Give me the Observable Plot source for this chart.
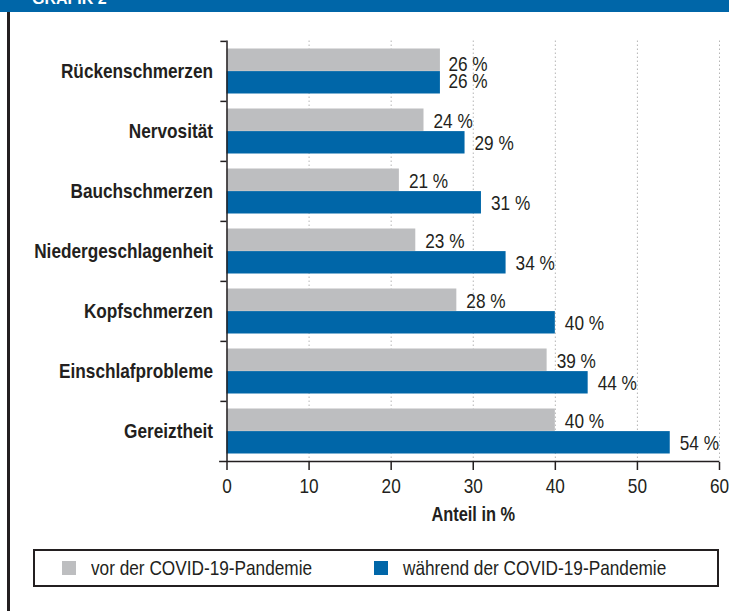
<!DOCTYPE html>
<html>
<head>
<meta charset="utf-8">
<script src="https://cdn.jsdelivr.net/npm/d3@7"></script>
<script src="https://cdn.jsdelivr.net/npm/@observablehq/plot@0.6"></script>
<style>
  html, body { margin: 0; padding: 0; background: #fff; }
  #wrap { position: relative; width: 729px; height: 611px; overflow: hidden; background: #fff;
          font-family: "Liberation Sans", Arial, sans-serif; color: #231f20; }
  #header { position: absolute; left: 0; top: 0; width: 729px; height: 12px; background: #0066a8; overflow: hidden; }
  #header span { position: absolute; left: 32px; top: -9.5px; line-height: 16px; font-size: 16px; font-weight: bold;
                 color: #fff; }
  #leftline { position: absolute; left: 7px; top: 12px; width: 2.5px; height: 600px; background: #231f20; }
  #chart { position: absolute; left: 0; top: 0; }
  #legend { position: absolute; left: 33px; top: 549px; width: 686px; height: 38px; box-sizing: border-box;
            border: 2px solid #231f20; font-size: 21px; }
  .item { position: absolute; top: 0; height: 34px; display: flex; align-items: center; white-space: nowrap; }
  .sw { display: inline-block; width: 14px; height: 14px; margin-right: 15px; flex: none; }
  .lbl { display: inline-block; transform: scaleX(0.82); transform-origin: left center; }
</style>
</head>
<body>
<div id="wrap">
  <div id="header"><span>GRAFIK 2</span></div>
  <div id="leftline"></div>
  <div id="chart"></div>
  <div id="legend"></div>
</div>
<script>
const categories = ["Rückenschmerzen", "Nervosität", "Bauchschmerzen", "Niedergeschlagenheit", "Kopfschmerzen", "Einschlafprobleme", "Gereiztheit"];
const vorPandemie = [26, 24, 21, 23, 28, 39, 40];
const waehrendPandemie = [26, 29, 31, 34, 40, 44, 54];
const seriesNames = ["vor der COVID-19-Pandemie", "während der COVID-19-Pandemie"];
const seriesColors = ["#bdbec0", "#0066a8"];
const xTicks = [0, 10, 20, 30, 40, 50, 60];

const vorRows = categories.map((c, i) => ({category: c, value: vorPandemie[i], series: seriesNames[0]}));
const waehrendRows = categories.map((c, i) => ({category: c, value: waehrendPandemie[i], series: seriesNames[1]}));

const font = '"Liberation Sans", Arial, sans-serif';
const ink = "#231f20";
const pct = d => d.value + " %";

const chart = Plot.plot({
  width: 729,
  height: 540,
  marginTop: 40.5,
  marginBottom: 78,
  marginLeft: 226.5,
  marginRight: 10,
  style: {fontFamily: font, color: ink, background: "transparent", overflow: "visible"},
  x: {domain: [0, 60]},
  y: {domain: categories, padding: 0},
  marks: [
    Plot.gridX(xTicks.slice(1), {stroke: "#b5b5b5", strokeOpacity: 1, strokeDasharray: "1.5,2.5", strokeWidth: 1}),
    Plot.barX(vorRows, {x: "value", y: "category", fill: seriesColors[0], insetTop: 7.5, insetBottom: 30.1}),
    Plot.barX(waehrendRows, {x: "value", y: "category", fill: seriesColors[1], insetTop: 30.1, insetBottom: 7.5}),
    // first pair of labels is squeezed together as in the original
    Plot.text(vorRows.slice(0, 1), {x: "value", y: "category", text: pct, textAnchor: "start", dx: 8,
      dy: -7.2, fontSize: 21, fill: ink}),
    Plot.text(waehrendRows.slice(0, 1), {x: "value", y: "category", text: pct, textAnchor: "start", dx: 8,
      dy: 9.8, fontSize: 21, fill: ink}),
    Plot.text(vorRows.slice(1), {x: "value", y: "category", text: pct, textAnchor: "start", dx: 9.5,
      dy: -10.5, fontSize: 21, fill: ink}),
    Plot.text(waehrendRows.slice(1), {x: "value", y: "category", text: pct, textAnchor: "start", dx: 9.5,
      dy: 12.1, fontSize: 21, fill: ink}),
    Plot.ruleX([0], {stroke: ink, strokeWidth: 1.5}),
    Plot.ruleY(categories, {y: d => d, dy: -30.1, x1: -0.75, x2: 0, stroke: ink, strokeWidth: 1.5}),
    Plot.ruleY(categories.slice(-1), {y: d => d, dy: 30.1, x1: -0.9, x2: 60, stroke: ink, strokeWidth: 1.5}),
    Plot.axisY({tickSize: 0, tickPadding: 14, fontSize: 21, fontWeight: "bold", fill: ink, label: null}),
    Plot.axisX({ticks: xTicks, tickSize: 8, tickPadding: 8, fontSize: 21, fill: ink, stroke: ink, strokeWidth: 1.5, label: null}),
    Plot.axisX({ticks: [], label: "Anteil in %", labelAnchor: "center", labelArrow: "none", labelOffset: 58,
      fontSize: 20, fontWeight: "bold", fill: ink})
  ]
});

// condense all chart text horizontally (narrow typeface look), scaling about each text's anchor point
chart.querySelectorAll("text").forEach(t => {
  let tr = t.getAttribute("transform") || "";
  const x = t.getAttribute("x");
  if (x !== null && !isNaN(+x)) {
    tr += ` translate(${+x},0)`;
    t.removeAttribute("x");
  }
  t.setAttribute("transform", tr + " scale(0.82,1)");
});
document.getElementById("chart").appendChild(chart);

const legend = document.getElementById("legend");
const lefts = [27, 339];
seriesNames.forEach((name, i) => {
  const item = document.createElement("div");
  item.className = "item";
  item.style.left = lefts[i] + "px";
  const sw = document.createElement("span");
  sw.className = "sw";
  sw.style.background = seriesColors[i];
  const lbl = document.createElement("span");
  lbl.className = "lbl";
  lbl.textContent = name;
  item.appendChild(sw);
  item.appendChild(lbl);
  legend.appendChild(item);
});
</script>
</body>
</html>
